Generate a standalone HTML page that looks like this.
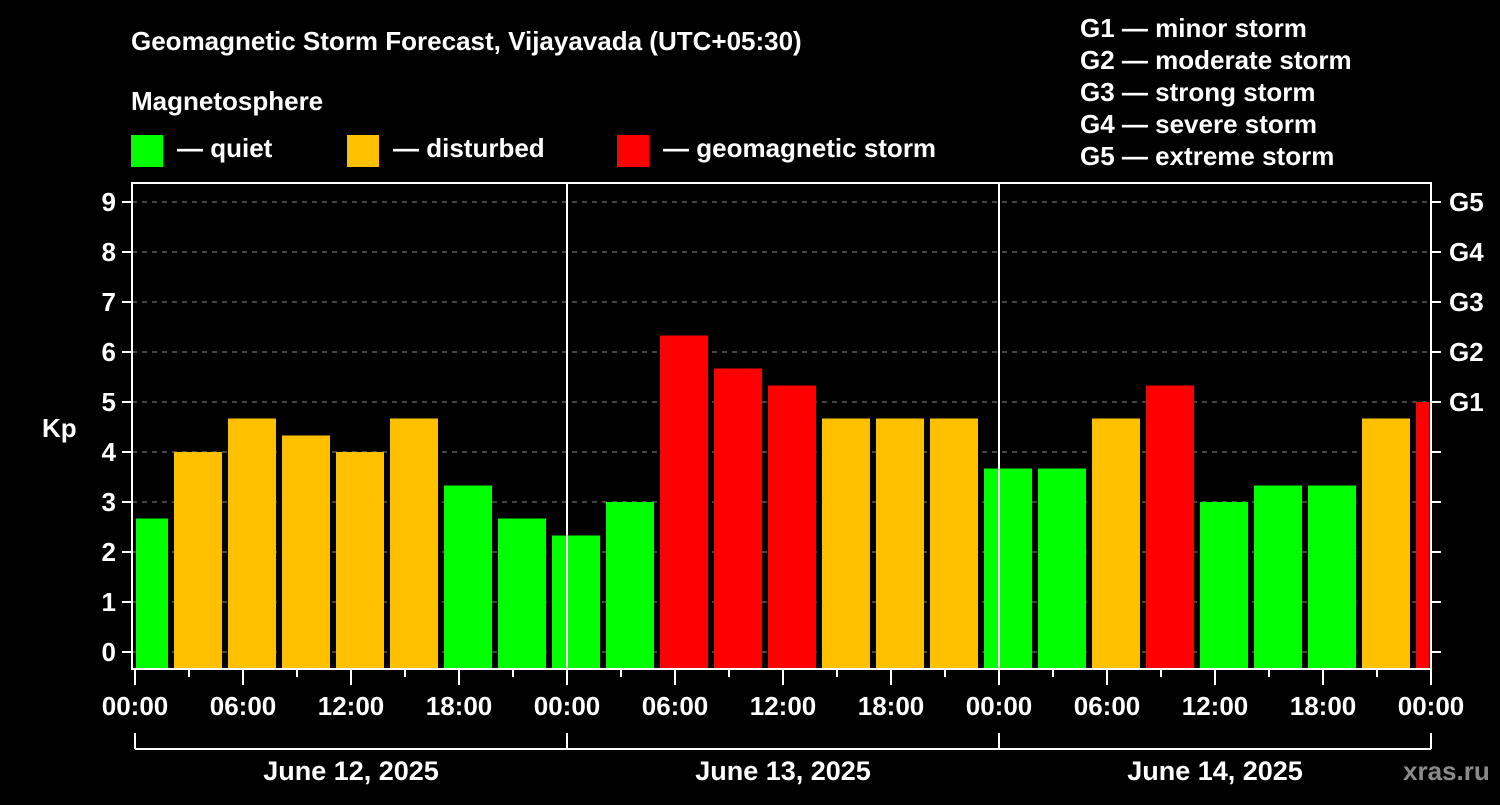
<!DOCTYPE html>
<html><head><meta charset="utf-8"><style>
body{margin:0;background:#000;width:1500px;height:800px;overflow:hidden;font-family:"Liberation Sans",sans-serif;}
svg text{font-family:"Liberation Sans",sans-serif;font-weight:bold;fill:#fff;}
</style></head><body>
<svg id="chart" width="1500" height="800" xmlns="http://www.w3.org/2000/svg">
<text x="131" y="50" font-size="26">Geomagnetic Storm Forecast, Vijayavada (UTC+05:30)</text>
<text x="131" y="110" font-size="26">Magnetosphere</text>
<g>
<rect x="131" y="135" width="32" height="32" fill="#00ff00"/>
<text x="177" y="157" font-size="26">— quiet</text>
<rect x="347" y="135" width="32" height="32" fill="#ffc000"/>
<text x="393" y="157" font-size="26">— disturbed</text>
<rect x="617" y="135" width="32" height="32" fill="#ff0000"/>
<text x="663" y="157" font-size="26">— geomagnetic storm</text>
</g>
<g font-size="26">
<text x="1080" y="37">G1 — minor storm</text>
<text x="1080" y="69">G2 — moderate storm</text>
<text x="1080" y="101">G3 — strong storm</text>
<text x="1080" y="133">G4 — severe storm</text>
<text x="1080" y="165">G5 — extreme storm</text>
</g>
<text x="42" y="437" font-size="26">Kp</text>
<g id="grid"></g><g id="bars"></g><g id="axes"></g>
<text x="1403" y="780" font-size="26" fill="#888" style="fill:#8a8a8a">xras.ru</text>
</svg>
<script>
const kpValues=[2.67,4,4.67,4.33,4,4.67,3.33,2.67,2.33,3,6.33,5.67,5.33,4.67,4.67,4.67,3.67,3.67,4.67,5.33,3,3.33,3.33,4.67,5];
const barStartHours=[-1,2,5,8,11,14,17,20,23,26,29,32,35,38,41,44,47,50,53,56,59,62,65,68,71];
const yTicks=[0,1,2,3,4,5,6,7,8,9];
const gLabels=["","","","","","G1","G2","G3","G4","G5"];
const xTickLabels=["00:00","06:00","12:00","18:00"];
const dayLabels=["June 12, 2025","June 13, 2025","June 14, 2025"];
const NS="http://www.w3.org/2000/svg";
const X0=135,PX_H=18,Y0=652,PX_K=50,TOP=183,BOT=669,LEFT=132,RIGHT=1431;
const x=h=>X0+h*PX_H, y=k=>Y0-k*PX_K;
function mk(tag,attrs,parent,txt){const e=document.createElementNS(NS,tag);for(const k in attrs)e.setAttribute(k,attrs[k]);if(txt!==undefined)e.textContent=txt;document.getElementById(parent).appendChild(e);return e;}
yTicks.forEach((k,i)=>{
 const g=mk('line',{x1:LEFT,x2:RIGHT,y1:y(k),y2:y(k),stroke:'#888','stroke-dasharray':'5,5','stroke-width':1},'grid');
 
 
 const t=mk('line',{x1:LEFT-10,x2:LEFT,y1:y(k),y2:y(k),stroke:'#fff','stroke-width':2},'axes');
 
 
 const t2=mk('line',{x1:RIGHT,x2:RIGHT+10,y1:y(k),y2:y(k),stroke:'#fff','stroke-width':2},'axes');
 
 
 const l=mk('text',{x:LEFT-16,y:y(k)+9,'font-size':26,'text-anchor':'end'},'axes',String(k));
 
 
 if(gLabels[i]){const gl=mk('text',{x:RIGHT+18,y:y(k)+9,'font-size':26},'axes',gLabels[i]);
 
 }
});
kpValues.forEach((v,i)=>{
 const s=Math.max(x(barStartHours[i])+3,X0+1), e=Math.min(x(barStartHours[i]+3)-3,RIGHT-2);
 const col=v>=5?'#ff0000':(v>=4?'#ffc000':'#00ff00');
 const r=mk('rect',{x:s,y:y(v),width:e-s,height:BOT-y(v),fill:col},'bars');
 
 
});
// frame
const f=mk('rect',{x:LEFT,y:TOP,width:RIGHT-LEFT,height:BOT-TOP,fill:'none',stroke:'#fff','stroke-width':2},'axes');


for(let d=1;d<3;d++){const l=mk('line',{x1:x(d*24),x2:x(d*24),y1:TOP,y2:BOT,stroke:'#fff','stroke-width':2},'axes');
 
 }
for(let h=0;h<=72;h+=3){const long=h%6===0;
 const t=mk('line',{x1:x(h),x2:x(h),y1:BOT,y2:BOT+(long?16:8),stroke:'#fff','stroke-width':2},'axes');
 
 
 if(long){const lb=mk('text',{x:x(h),y:715,'font-size':26,'text-anchor':'middle'},'axes',xTickLabels[(h/6)%4]);
 
 }}
const br=mk('line',{x1:x(0),x2:x(72),y1:749,y2:749,stroke:'#fff','stroke-width':2},'axes');


for(let d=0;d<=3;d++){const t=mk('line',{x1:x(d*24),x2:x(d*24),y1:733,y2:749,stroke:'#fff','stroke-width':2},'axes');
 
 }
dayLabels.forEach((d,i)=>{const t=mk('text',{x:x(i*24+12),y:780,'font-size':27,'text-anchor':'middle'},'axes',d);
 
 });
</script>
</body></html>
